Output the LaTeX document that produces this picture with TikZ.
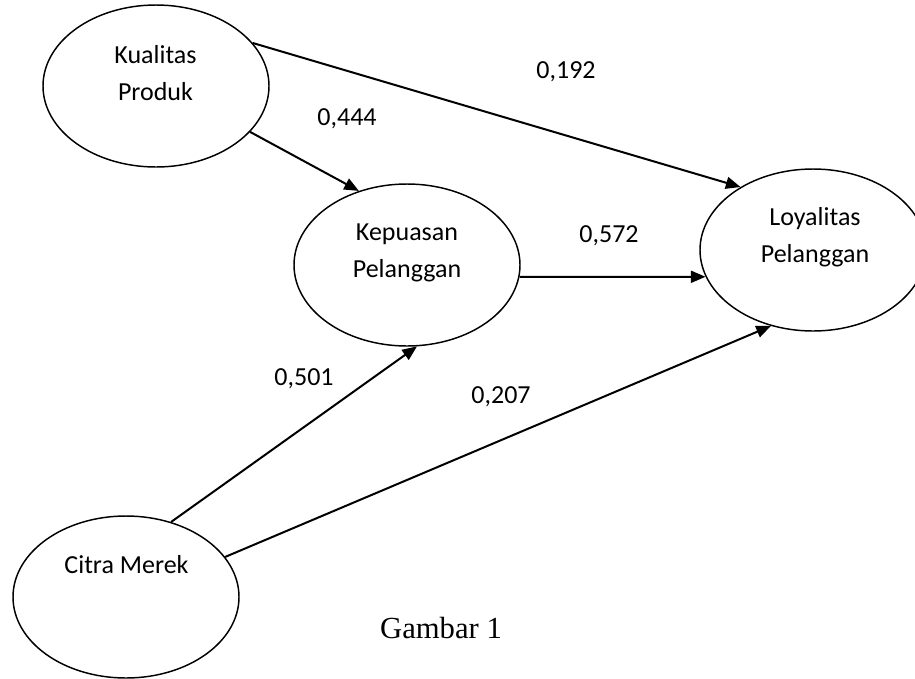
\documentclass[tikz,border=0pt]{standalone}
\usepackage{fontspec}
\setmainfont{Carlito}
\newfontfamily\capfont{Liberation Serif}
\usetikzlibrary{shapes.geometric,arrows.meta}
\begin{document}
\begin{tikzpicture}[x=0.75pt,y=-0.75pt,
  var/.style={ellipse,draw,line width=1.1pt,inner sep=0pt,minimum width=169.5pt,minimum height=121.5pt},
  txt/.style={font=\fontsize{19.5}{27}\selectfont,inner sep=0pt,anchor=base},
  link/.style={line width=1.5pt,-{Triangle[length=11pt,width=9pt]}}]
\clip (0,0) rectangle (915,679);
% variables
\node[var] (KP) at (156,86) {};
\node[var] (KEP) at (407,265) {};
\node[var] (LOY) at (813,250) {};
\node[var] (CM) at (126,597) {};
% texts inside
\node[txt] (kp1) at (155.5,63) {Kualitas};
\node[txt] (kp2) at (155.5,100) {Produk};
\node[txt] (ke1) at (407,240) {Kepuasan};
\node[txt] (ke2) at (407,277) {Pelanggan};
\node[txt] (lo1) at (815,225) {Loyalitas};
\node[txt] (lo2) at (815,262) {Pelanggan};
\node[txt] (cm1) at (126.5,573) {Citra Merek};
% connectors
\draw[link] (KP.-26) -- (KEP.123);
\draw[link] (KP.24) -- (LOY.139);
\draw[link] (KEP.-6) -- (LOY.-166);
\draw[link] (CM.59) -- (KEP.-83);
\draw[link] (CM.22) -- (LOY.-119);
% coefficients
\node[txt] (c192) at (566,78) {0,192};
\node[txt] (c444) at (347,125) {0,444};
\node[txt] (c572) at (609,242) {0,572};
\node[txt] (c501) at (304,385) {0,501};
\node[txt] (c207) at (501,403) {0,207};
% caption
\node[inner sep=0pt,anchor=base,font=\capfont\fontsize{23}{28}\selectfont] (cap) at (441,638) {Gambar 1};
\end{tikzpicture}
\end{document}
